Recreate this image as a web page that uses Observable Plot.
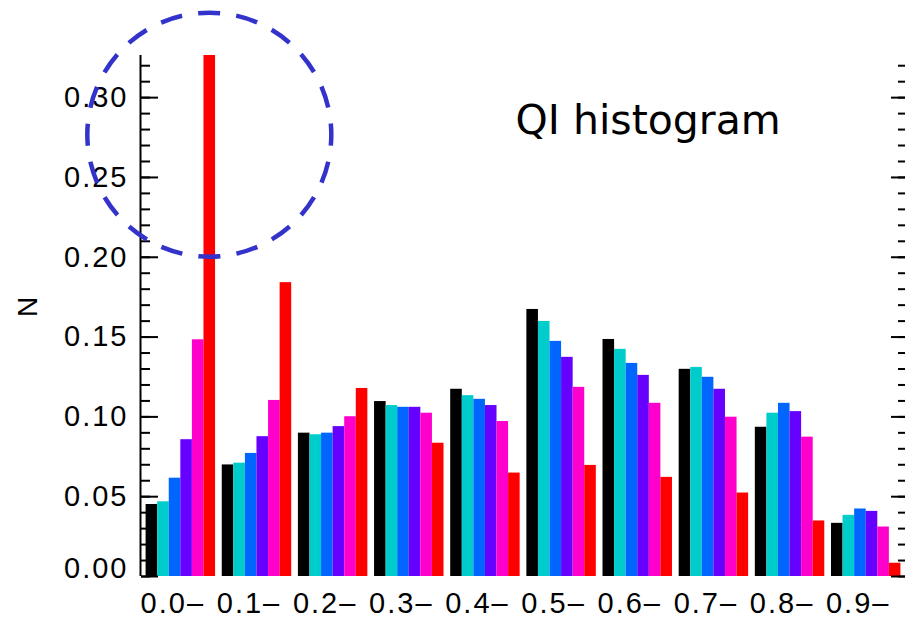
<!DOCTYPE html>
<html><head><meta charset="utf-8">
<script src="https://cdn.jsdelivr.net/npm/d3@7"></script>
<script src="https://cdn.jsdelivr.net/npm/@observablehq/plot@0.6"></script>
<style>
html,body{margin:0;padding:0;background:#fff;overflow:hidden;}
.ticklab{letter-spacing:2px;}
</style>
</head><body><div id="chart"></div>
<script>
// categories (QI bins)
const binStarts = [0.0, 0.1, 0.2, 0.3, 0.4, 0.5, 0.6, 0.7, 0.8, 0.9];
const binLabels = ["0.0", "0.1", "0.2", "0.3", "0.4", "0.5", "0.6", "0.7", "0.8", "0.9"];
// series
const seriesNames = ["set 1", "set 2", "set 3", "set 4", "set 5", "set 6"];
const seriesColors = ["#000000", "#00cccc", "#0066ff", "#6600ff", "#ff00cc", "#ff0000"];
const set1 = [0.0451, 0.0699, 0.0898, 0.1096, 0.1173, 0.1673, 0.1485, 0.1298, 0.0935, 0.0333];
const set2 = [0.0468, 0.0710, 0.0888, 0.1071, 0.1133, 0.1598, 0.1423, 0.1310, 0.1023, 0.0383];
const set3 = [0.0616, 0.0771, 0.0898, 0.1060, 0.1110, 0.1473, 0.1335, 0.1248, 0.1085, 0.0423];
const set4 = [0.0857, 0.0876, 0.0939, 0.1060, 0.1071, 0.1373, 0.1260, 0.1173, 0.1033, 0.0408];
const set5 = [0.1483, 0.1103, 0.1001, 0.1023, 0.0971, 0.1185, 0.1085, 0.0998, 0.0873, 0.0310];
const set6 = [0.3264, 0.1841, 0.1178, 0.0835, 0.0648, 0.0696, 0.0621, 0.0523, 0.0348, 0.0083];
const seriesValues = [set1, set2, set3, set4, set5, set6];
// ticks
const yMajorTicks = [0.00, 0.05, 0.10, 0.15, 0.20, 0.25, 0.30];
const yMinorTicks = [0.00,0.01,0.02,0.03,0.04,0.05,0.06,0.07,0.08,0.09,0.10,0.11,0.12,0.13,0.14,0.15,0.16,0.17,0.18,0.19,0.20,0.21,0.22,0.23,0.24,0.25,0.26,0.27,0.28,0.29,0.30,0.31,0.32];
// annotation (dashed circle around the 0.0 red bar)
const circleCenter = [{x: 0.083, y: 0.2768}];
const titleText = ["QI histogram"];
const yLabel = ["N"];

const barW = 0.0152; // width of one bar in QI units (6 per bin)
const rows = [];
seriesNames.forEach((s, k) => seriesValues[k].forEach((v, i) => rows.push({bin: binStarts[i], k, series: s, value: v})));

const W = 905, H = 627, mL = 140, mR = 0;
const frameW = W - mL - mR;

const chart = Plot.plot({
  width: W, height: H,
  marginLeft: mL, marginRight: mR, marginTop: 55, marginBottom: 51,
  x: {domain: [-0.00735, 0.9972], axis: null},
  y: {domain: [0, 0.3264], axis: null},
  color: {domain: seriesNames, range: seriesColors},
  style: {fontFamily: "Liberation Sans, Arial, sans-serif", background: "#fff", overflow: "visible"},
  marks: [
    Plot.rectY(rows, {
      x1: d => d.bin + d.k * barW,
      x2: d => d.bin + (d.k + 1) * barW,
      y1: 0, y2: "value", fill: "series"
    }),
    // left axis line
    Plot.ruleX([-0.00735], {stroke: "#000", strokeWidth: 2}),
    // left ticks pointing inward
    Plot.axisY({anchor: "right", ticks: yMinorTicks, tickSize: 9, tickFormat: () => "", dx: -frameW, strokeWidth: 2}),
    Plot.axisY({anchor: "right", ticks: yMajorTicks, tickSize: 17, tickFormat: () => "", dx: -frameW, strokeWidth: 2}),
    // right ticks pointing inward
    Plot.axisY({anchor: "left", ticks: yMinorTicks, tickSize: 7, tickFormat: () => "", dx: frameW, strokeWidth: 2}),
    Plot.axisY({anchor: "left", ticks: yMajorTicks, tickSize: 14, tickFormat: () => "", dx: frameW, strokeWidth: 2}),
    // y tick labels
    Plot.axisY({anchor: "left", ticks: yMajorTicks.slice(1), tickSize: 0, tickPadding: 12, tickFormat: d3.format(".2f"), fontSize: 29, className: "ticklab"}),
    Plot.axisY({anchor: "left", ticks: yMajorTicks.slice(0, 1), tickSize: 0, tickPadding: 12, tickFormat: d3.format(".2f"), fontSize: 29, dy: -8, className: "ticklab"}),
    // x labels
    Plot.text(binStarts, {x: d => d + 3 * barW, frameAnchor: "bottom", dy: 36.5, dx: -8,
      text: (d, i) => binLabels[i] + "\u2013", fontSize: 29, className: "ticklab"}),
    // y label
    Plot.text(yLabel, {frameAnchor: "left", dx: -112, dy: 1, rotate: -90, fontSize: 28}),
    // title
    Plot.text(titleText, {frameAnchor: "top-left", dx: 375, dy: 78, textAnchor: "start", lineAnchor: "bottom",
      fontSize: 41, fontFamily: "DejaVu Sans"}),
    // dashed circle annotation
    Plot.dot(circleCenter, {x: "x", y: "y", r: 122, fill: "none", stroke: "#3333cc", strokeWidth: 4.5,
      strokeDasharray: "22,16.3", strokeDashoffset: 11})
  ]
});
document.getElementById("chart").appendChild(chart);
</script>
</body></html>
